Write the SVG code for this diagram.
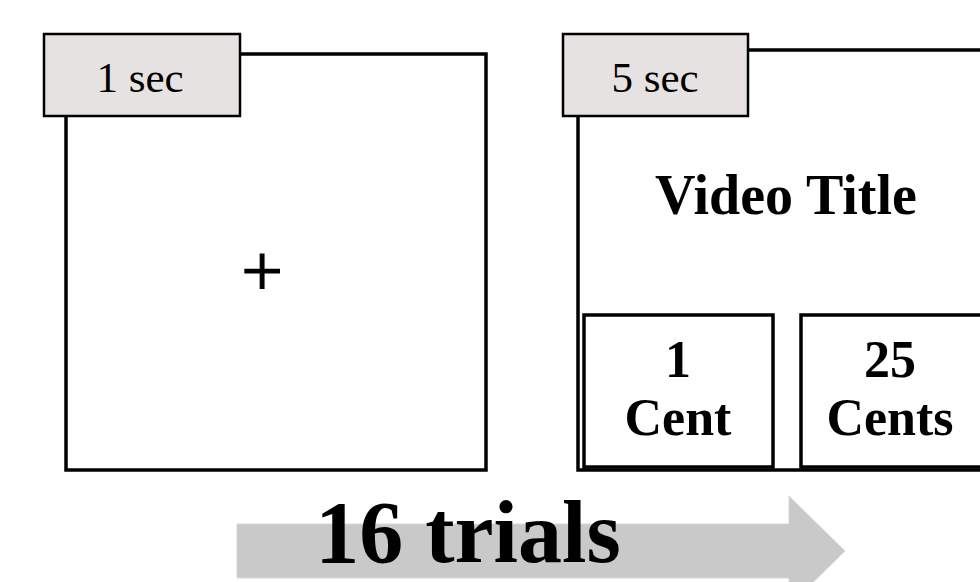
<svg xmlns="http://www.w3.org/2000/svg" width="980" height="582" viewBox="0 0 980 582">
  <style>
    .frame { fill: #ffffff; stroke: #000000; stroke-width: 3.5; }
    .tag { fill: #e7e2e2; stroke: #000000; stroke-width: 2.5; }
    .tagtext { font-family: "Liberation Serif", "Times New Roman", serif; font-size: 43px; fill: #000000; text-anchor: middle; }
    .bold { font-family: "Liberation Serif", "Times New Roman", serif; font-weight: bold; fill: #000000; text-anchor: middle; }
  </style>

  <!-- Screen 1: fixation cross -->
  <g id="fixation">
    <rect class="frame" x="66" y="54" width="420" height="416"/>
    <text x="262" y="296" style="font-family: 'Liberation Serif', 'Times New Roman', serif; font-size: 74px; text-anchor: middle; stroke: #000000; stroke-width: 1.2;">+</text>
  </g>
  <g id="tag-1sec">
    <rect class="tag" x="44" y="34" width="196" height="82"/>
    <text class="tagtext" x="140" y="92">1 sec</text>
  </g>

  <!-- Screen 2: video title and reward choices -->
  <g id="choice">
    <rect class="frame" x="578" y="50" width="420" height="420"/>
    <text class="bold" x="786" y="214" font-size="56">Video Title</text>
  </g>
  <g id="option-1cent">
    <rect class="frame" x="584" y="315" width="189" height="152"/>
    <text class="bold" x="678" y="377" font-size="52">1</text>
    <text class="bold" x="678" y="435" font-size="52">Cent</text>
  </g>
  <g id="option-25cents">
    <rect class="frame" x="801" y="315" width="200" height="152"/>
    <text class="bold" x="890" y="377" font-size="52">25</text>
    <text class="bold" x="890" y="435" font-size="52">Cents</text>
  </g>
  <g id="tag-5sec">
    <rect class="tag" x="563" y="34" width="185" height="82"/>
    <text class="tagtext" x="655" y="92">5 sec</text>
  </g>

  <!-- Repetition arrow -->
  <g id="connectors">
    <polygon points="237,524 789,524 789,496 845,551 789,606 789,578 237,578" fill="#c9c9c9" stroke="#d8d8d8" stroke-width="1"/>
  </g>
  <g id="trials">
    <text class="bold" x="468" y="562" font-size="88">16 trials</text>
  </g>
</svg>
